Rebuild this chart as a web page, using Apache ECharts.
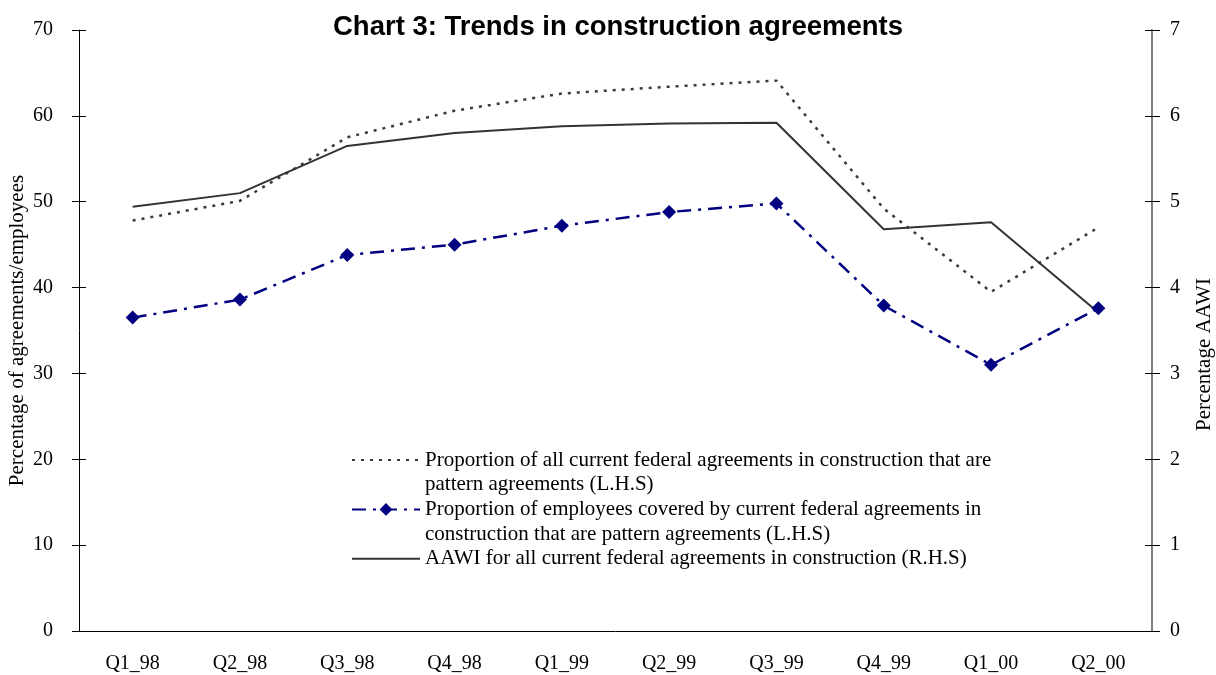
<!DOCTYPE html>
<html>
<head>
<meta charset="utf-8">
<title>Chart 3: Trends in construction agreements</title>
<script src="https://cdn.jsdelivr.net/npm/echarts@6/dist/echarts.min.js"></script>
<style>
  html, body { margin: 0; padding: 0; background: #fff; }
  #chart { width: 1216px; height: 675px; }
</style>
</head>
<body>
<div id="chart"></div>
<script>
// quarters on the x axis
var quarters = ['Q1_98', 'Q2_98', 'Q3_98', 'Q4_98', 'Q1_99', 'Q2_99', 'Q3_99', 'Q4_99', 'Q1_00', 'Q2_00']

// left axis (%)
var agreementShare = [47.8, 50.1, 57.5, 60.6, 62.6, 63.4, 64.1, 49.2, 39.5, 47.0]
var employeeShare = [36.5, 38.6, 43.8, 45.0, 47.2, 48.8, 49.8, 37.9, 31.0, 37.6]

// right axis (% AAWI)
var aawi = [4.94, 5.10, 5.65, 5.80, 5.88, 5.91, 5.92, 4.68, 4.76, 3.71]

var seriesNames = [
  'Proportion of all current federal agreements in construction that are\npattern agreements (L.H.S)',
  'Proportion of employees covered by current federal agreements in\nconstruction that are pattern agreements (L.H.S)',
  'AAWI for all current federal agreements in construction (R.H.S)'
]

var serif = '"Liberation Serif", "Times New Roman", serif'

var chart = echarts.init(document.getElementById('chart'))

// the reference ticks cross the axis line, so a second bare axis draws the inside half
var option = {
  backgroundColor: '#fff',
  animation: false,
  title: {
    text: 'Chart 3: Trends in construction agreements',
    left: 328,
    top: 8,
    textStyle: {
      fontFamily: '"Liberation Sans", Arial, sans-serif',
      fontWeight: 'bold',
      fontSize: 27.5,
      color: '#000',
    },
  },
  legend: {
    orient: 'vertical',
    left: 346,
    top: 418,
    itemWidth: 68,
    itemHeight: 16,
    itemGap: -24.7,
    data: [
      { name: seriesNames[0], itemStyle: { opacity: 0 } },
      { name: seriesNames[1] },
      { name: seriesNames[2], itemStyle: { opacity: 0 } },
    ],
    formatter: function (name) {
      // blank first line keeps the sample line level with the first text line
      return name.indexOf('\n') >= 0 ? '\n' + name : '\n' + name + '\n'
    },
    textStyle: {
      fontFamily: serif,
      fontSize: 21,
      color: '#000',
      lineHeight: 24.7,
    },
  },
  grid: {
    left: 79,
    right: 64,
    top: 30,
    bottom: 44,
    outerBoundsMode: 'none',
  },
  xAxis: [
    {
      type: 'category',
      data: quarters,
      position: 'bottom',
      axisLine: { onZero: false, lineStyle: { color: '#000', width: 1 } },
      axisTick: { length: 6, lineStyle: { color: '#000' } },
      axisLabel: { margin: 23, color: '#000', fontFamily: serif, fontSize: 20 },
      splitLine: { show: false },
    },
    {
      type: 'category',
      data: quarters,
      position: 'bottom',
      axisLine: { show: false, onZero: false },
      axisTick: { inside: true, length: 6, lineStyle: { color: '#000' } },
      axisLabel: { show: false },
      splitLine: { show: false },
    },
  ],
  yAxis: [
    {
      type: 'value',
      position: 'left',
      min: 0,
      max: 70,
      interval: 10,
      name: 'Percentage of agreements/employees',
      nameLocation: 'middle',
      nameGap: 51,
      nameMoveOverlap: false,
      nameTextStyle: { fontFamily: serif, fontSize: 21, color: '#000' },
      axisLine: { show: true, lineStyle: { color: '#000', width: 1 } },
      axisTick: { show: true, length: 7, lineStyle: { color: '#000' } },
      axisLabel: { margin: 26, color: '#000', fontFamily: serif, fontSize: 20 },
      splitLine: { show: false },
    },
    {
      type: 'value',
      position: 'right',
      min: 0,
      max: 7,
      interval: 1,
      name: 'Percentage AAWI',
      nameLocation: 'middle',
      nameRotate: 90,
      nameGap: 42,
      nameTextStyle: { fontFamily: serif, fontSize: 21, color: '#000', padding: [0, 48, 0, 0] },
      axisLine: { show: true, lineStyle: { color: '#808080', width: 2 } },
      axisTick: { show: true, length: 8, lineStyle: { color: '#000' } },
      axisLabel: { margin: 18, color: '#000', fontFamily: serif, fontSize: 20 },
      splitLine: { show: false },
    },
    {
      type: 'value',
      position: 'left',
      min: 0,
      max: 70,
      interval: 10,
      axisLine: { show: false },
      axisTick: { show: true, inside: true, length: 7, lineStyle: { color: '#000' } },
      axisLabel: { show: false },
      splitLine: { show: false },
    },
    {
      type: 'value',
      position: 'right',
      min: 0,
      max: 7,
      interval: 1,
      axisLine: { show: false },
      axisTick: { show: true, inside: true, length: 7, lineStyle: { color: '#000' } },
      axisLabel: { show: false },
      splitLine: { show: false },
    },
  ],
  series: [
    {
      name: seriesNames[0],
      type: 'line',
      yAxisIndex: 0,
      data: agreementShare,
      symbol: 'none',
      color: '#333',
      lineStyle: { color: '#3a3a3a', width: 2.5, type: [3, 6] },
      z: 2,
    },
    {
      name: seriesNames[1],
      type: 'line',
      yAxisIndex: 0,
      data: employeeShare,
      symbol: 'diamond',
      symbolSize: 14,
      showSymbol: true,
      color: '#000080',
      itemStyle: { color: '#000080' },
      lineStyle: { color: '#000080', width: 2.5, type: [14, 7, 3, 7] },
      z: 4,
    },
    {
      name: seriesNames[2],
      type: 'line',
      yAxisIndex: 1,
      data: aawi,
      symbol: 'none',
      color: '#333',
      lineStyle: { color: '#333', width: 2 },
      z: 3,
    },
  ],
}

chart.setOption(option)
</script>
</body>
</html>
